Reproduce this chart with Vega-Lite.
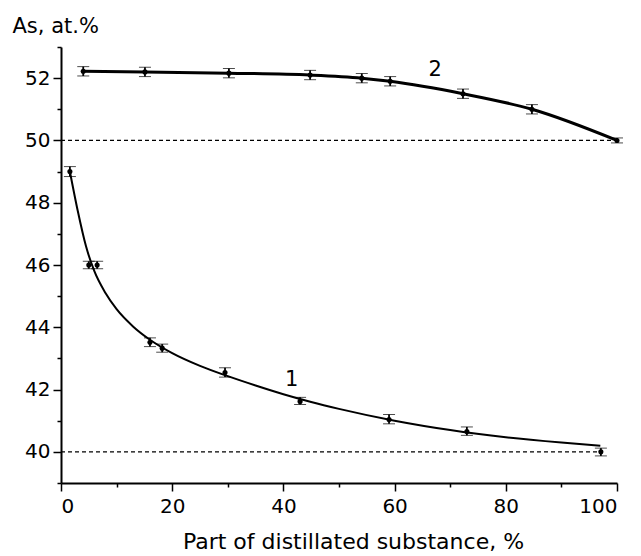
{
  "$schema": "https://vega.github.io/schema/vega-lite/v6.json",
  "autosize": "none",
  "width": 556,
  "height": 436,
  "padding": {"left": 61, "top": 47, "right": 24, "bottom": 73},
  "background": "white",
  "config": {
    "view": {"stroke": null},
    "font": "DejaVu Sans",
    "axis": {"grid": false, "domainColor": "black", "domainWidth": 2, "tickColor": "black", "tickWidth": 1.5, "labelColor": "black", "titleColor": "black", "labelFont": "DejaVu Sans", "titleFont": "DejaVu Sans", "labelFontSize": 20, "titleFontSize": 22, "titleFontWeight": "normal"}
  },
  "datasets": {
    "pts": [
      {"c": "2", "x": 4.0, "y": 52.22, "lo": 52.07, "hi": 52.37},
      {"c": "2", "x": 15.1, "y": 52.2, "lo": 52.05, "hi": 52.35},
      {"c": "2", "x": 30.2, "y": 52.16, "lo": 52.01, "hi": 52.31},
      {"c": "2", "x": 44.8, "y": 52.1, "lo": 51.95, "hi": 52.25},
      {"c": "2", "x": 54.1, "y": 52.0, "lo": 51.85, "hi": 52.15},
      {"c": "2", "x": 59.2, "y": 51.9, "lo": 51.75, "hi": 52.05},
      {"c": "2", "x": 72.3, "y": 51.5, "lo": 51.35, "hi": 51.65},
      {"c": "2", "x": 84.7, "y": 51.0, "lo": 50.85, "hi": 51.15},
      {"c": "2", "x": 100, "y": 50.0, "lo": 49.92, "hi": 50.08},
      {"c": "1", "x": 1.6, "y": 49.0, "lo": 48.84, "hi": 49.16},
      {"c": "1", "x": 5.0, "y": 46.0, "lo": 45.88, "hi": 46.12},
      {"c": "1", "x": 6.5, "y": 46.0, "lo": 45.88, "hi": 46.12},
      {"c": "1", "x": 16.0, "y": 43.52, "lo": 43.38, "hi": 43.66},
      {"c": "1", "x": 18.2, "y": 43.33, "lo": 43.2, "hi": 43.46},
      {"c": "1", "x": 29.5, "y": 42.55, "lo": 42.4, "hi": 42.7},
      {"c": "1", "x": 43.0, "y": 41.62, "lo": 41.52, "hi": 41.75},
      {"c": "1", "x": 59.0, "y": 41.04, "lo": 40.9, "hi": 41.2},
      {"c": "1", "x": 73.0, "y": 40.65, "lo": 40.53, "hi": 40.8},
      {"c": "1", "x": 97.1, "y": 40.0, "lo": 39.87, "hi": 40.12}
    ],
    "fit1": [
      {"x": 1.6, "y": 49.0},
      {"x": 3, "y": 47.75},
      {"x": 4.5, "y": 46.6},
      {"x": 6, "y": 45.8},
      {"x": 8, "y": 45.1},
      {"x": 10, "y": 44.58},
      {"x": 13, "y": 44.02},
      {"x": 16, "y": 43.6},
      {"x": 20, "y": 43.17},
      {"x": 25, "y": 42.76},
      {"x": 30, "y": 42.43},
      {"x": 35, "y": 42.13},
      {"x": 40, "y": 41.85},
      {"x": 45, "y": 41.6},
      {"x": 50, "y": 41.38},
      {"x": 60, "y": 41.0},
      {"x": 70, "y": 40.7},
      {"x": 80, "y": 40.47},
      {"x": 90, "y": 40.3},
      {"x": 97, "y": 40.2}
    ],
    "refs": [
      {"y": 50, "x": 0, "x2": 100},
      {"y": 40, "x": 0, "x2": 97}
    ],
    "labs": [
      {"x": 67.3, "y": 52.25, "t": "2"},
      {"x": 41.5, "y": 42.3, "t": "1"}
    ]
  },
  "encoding": {
    "x": {"field": "x", "type": "quantitative", "scale": {"domain": [0, 100], "nice": false}},
    "y": {"field": "y", "type": "quantitative", "scale": {"domain": [39, 53], "nice": false}}
  },
  "layer": [
    {
      "data": {"name": "refs"},
      "mark": {"type": "rule", "color": "black", "strokeWidth": 1.3, "strokeDash": [4, 3]},
      "encoding": {
        "x": {"field": "x", "type": "quantitative", "axis": {"values": [0, 20, 40, 60, 80, 100], "tickSize": 8, "labelPadding": 5, "title": "Part of distillated substance, %", "titleX": 292, "titleY": 65, "titleBaseline": "alphabetic"}},
        "x2": {"field": "x2"},
        "y": {"field": "y", "type": "quantitative", "axis": {"values": [40, 42, 44, 46, 48, 50, 52], "tickSize": 8, "labelPadding": 3, "title": "As, at.%", "titleAngle": 0, "titleAlign": "left", "titleBaseline": "alphabetic", "titleX": -49, "titleY": -15, "titleFontSize": 21}}
      }
    },
    {
      "data": {"name": "fit1"},
      "mark": {"type": "line", "color": "black", "strokeWidth": 2, "interpolate": "monotone"},
      "encoding": {
        "x": {"field": "x", "type": "quantitative", "axis": {"values": [10, 30, 50, 70, 90], "tickSize": 4, "labels": false, "domain": false, "title": null, "orient": "bottom"}},
        "y": {"field": "y", "type": "quantitative", "axis": {"values": [39, 41, 43, 45, 47, 49, 51, 53], "tickSize": 4, "labels": false, "domain": false, "title": null, "orient": "left"}}
      }
    },
    {
      "data": {"name": "pts"},
      "transform": [{"filter": "datum.c == '2'"}],
      "mark": {"type": "line", "color": "black", "strokeWidth": 3, "interpolate": "monotone"},
      "encoding": {
        "x": {"field": "x", "type": "quantitative", "axis": null},
        "y": {"field": "y", "type": "quantitative", "axis": null}
      }
    },
    {
      "data": {"name": "pts"},
      "mark": {"type": "errorbar", "ticks": {"size": 12, "color": "black", "strokeWidth": 1.8}, "rule": {"color": "black", "strokeWidth": 1.8}},
      "encoding": {
        "x": {"field": "x", "type": "quantitative", "axis": null},
        "y": {"field": "lo", "type": "quantitative", "axis": null},
        "y2": {"field": "hi"}
      }
    },
    {
      "data": {"name": "pts"},
      "mark": {"type": "point", "filled": true, "color": "black", "size": 26, "opacity": 1},
      "encoding": {
        "x": {"field": "x", "type": "quantitative", "axis": null},
        "y": {"field": "y", "type": "quantitative", "axis": null}
      }
    },
    {
      "data": {"name": "labs"},
      "mark": {"type": "text", "fontSize": 21, "color": "black", "font": "DejaVu Sans", "baseline": "middle"},
      "encoding": {
        "x": {"field": "x", "type": "quantitative", "axis": null},
        "y": {"field": "y", "type": "quantitative", "axis": null},
        "text": {"field": "t"}
      }
    }
  ],
  "resolve": {"axis": {"x": "independent", "y": "independent"}}
}
